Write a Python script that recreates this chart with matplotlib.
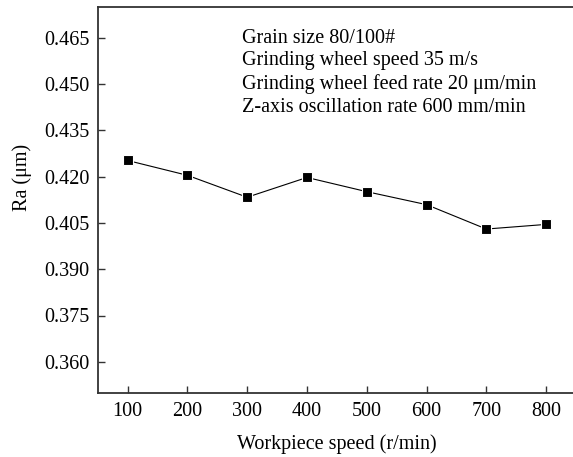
import matplotlib
matplotlib.use("Agg")
import matplotlib.pyplot as plt

speeds = [100, 200, 300, 400, 500, 600, 700, 800]
ra = [0.4252, 0.4204, 0.4133, 0.4197, 0.4151, 0.4109, 0.4030, 0.4045]
yticks = [0.360, 0.375, 0.390, 0.405, 0.420, 0.435, 0.450, 0.465]
xticks = [100, 200, 300, 400, 500, 600, 700, 800]
note_lines = ["Grain size 80/100#",
              "Grinding wheel speed 35 m/s",
              "Grinding wheel feed rate 20 \u03bcm/min",
              "Z-axis oscillation rate 600 mm/min"]

plt.rcParams['font.family'] = ['Liberation Serif', 'DejaVu Serif']

fig = plt.figure(figsize=(5.73, 4.57), dpi=100)
ax = fig.add_axes([97.7/573, (457-392.7)/457, 1 - 97.7/573, (392.7-6.7)/457])

ax.plot(speeds, ra, color='black', lw=0.8, marker='s', ms=7,
        mfc='black', mec='white', mew=0.8)

ax.set_xlim(50, 845)
ax.set_ylim(0.35, 0.475)
ax.set_xticks(xticks)
ax.set_yticks(yticks)
ax.set_yticklabels([f"{v:.3f}" for v in yticks])
ax.tick_params(direction='in', length=5, width=1, labelsize=14.5, color='#333333')
ax.tick_params(axis='x', pad=7)
ax.tick_params(axis='y', pad=6)
ax.spines['right'].set_visible(False)
for s in ['left', 'bottom', 'top']:
    ax.spines[s].set_linewidth(1.3)
    ax.spines[s].set_color('#333333')

ax.set_xlabel("Workpiece speed (r/min)", fontsize=14.5)
ax.xaxis.set_label_coords((337-97.7)/475.3, (392.7-434)/386)
ax.set_ylabel("Ra (\u03bcm)", fontsize=14.5)
ax.yaxis.set_label_coords((32-97.7)/475.3, (392.7-177)/386)

ax.text((241.7-97.7)/475.3, (392.7-29)/386, "\n".join(note_lines),
        transform=ax.transAxes, ha='left', va='top', fontsize=14.5,
        linespacing=1.25)

fig.savefig("out.png", dpi=100)
